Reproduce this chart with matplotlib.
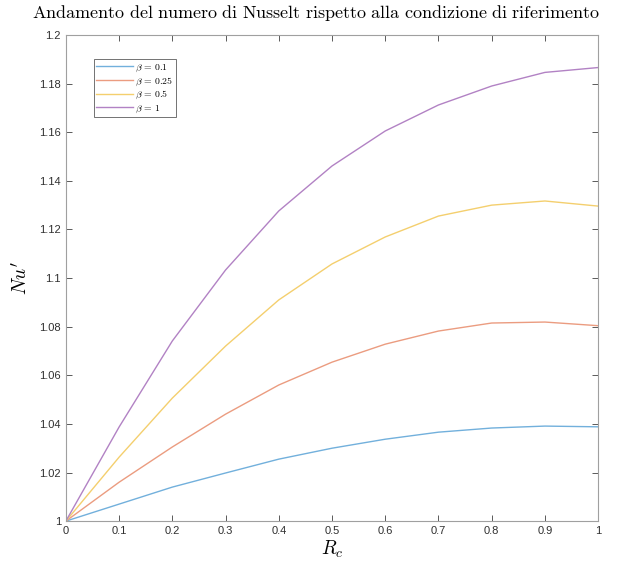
import matplotlib
matplotlib.use('Agg')
import matplotlib.pyplot as plt
import numpy as np

plt.rcParams['mathtext.fontset'] = 'cm'
plt.rcParams['font.family'] = ['Liberation Sans', 'DejaVu Sans']

rc = [0, 0.1, 0.2, 0.3, 0.4, 0.5, 0.6, 0.7, 0.8, 0.9, 1.0]
nu_b01 = [1.0, 1.007, 1.014, 1.0198, 1.0255, 1.030, 1.0337, 1.0366, 1.0383, 1.0391, 1.0388]
nu_b025 = [1.0, 1.016, 1.0305, 1.044, 1.056, 1.0654, 1.0728, 1.0782, 1.0815, 1.0819, 1.0804]
nu_b05 = [1.0, 1.0263, 1.0506, 1.072, 1.091, 1.1058, 1.1169, 1.1255, 1.130, 1.1317, 1.1296]
nu_b1 = [1.0, 1.0387, 1.0741, 1.1033, 1.1276, 1.1461, 1.1605, 1.1712, 1.179, 1.1846, 1.1866]
labels = [r'$\beta\,=\,0.1$', r'$\beta\,=\,0.25$', r'$\beta\,=\,0.5$', r'$\beta\,=\,1$']
colors = ['#72b0dc', '#eb9c80', '#f4cf6e', '#b282c4']

fig = plt.figure(figsize=(6.27, 5.64), dpi=100)
ax = fig.add_axes([0.105, 0.076, 0.849, 0.862])

for y, lab, c in zip([nu_b01, nu_b025, nu_b05, nu_b1], labels, colors):
    ax.plot(rc, y, color=c, lw=1.0, label=lab)

ax.set_xlim(0, 1)
ax.set_ylim(1, 1.2)
ax.set_xticks(np.arange(0, 1.01, 0.1))
ax.set_xticklabels(['0', '0.1', '0.2', '0.3', '0.4', '0.5', '0.6', '0.7', '0.8', '0.9', '1'])
ax.set_yticks(np.arange(1, 1.201, 0.02))
ax.set_yticklabels(['1', '1.02', '1.04', '1.06', '1.08', '1.1', '1.12', '1.14', '1.16', '1.18', '1.2'])
ax.tick_params(direction='in', top=True, right=True, length=4, width=0.6,
               color='#404040', labelcolor='#303030', labelsize=8)
for s in ax.spines.values():
    s.set_color('#a0a0a0')
    s.set_linewidth(0.8)

ax.set_title(r'$\mathrm{Andamento\ del\ numero\ di\ Nusselt\ rispetto\ alla\ condizione\ di\ riferimento}$',
             fontsize=13, pad=12, x=0.47)
ax.set_xlabel(r'$R_c$', fontsize=14, labelpad=2)
ax.set_ylabel(r"$Nu'$", fontsize=14, labelpad=6)

leg = ax.legend(loc='upper left', bbox_to_anchor=(0.053, 0.95), fontsize=7, frameon=True,
                fancybox=False, handlelength=3.8, borderpad=0.25, labelspacing=0.15,
                handletextpad=0.2, borderaxespad=0)
leg.get_frame().set_edgecolor('#333333')
leg.get_frame().set_linewidth(0.6)

fig.savefig('out.png', dpi=100)
